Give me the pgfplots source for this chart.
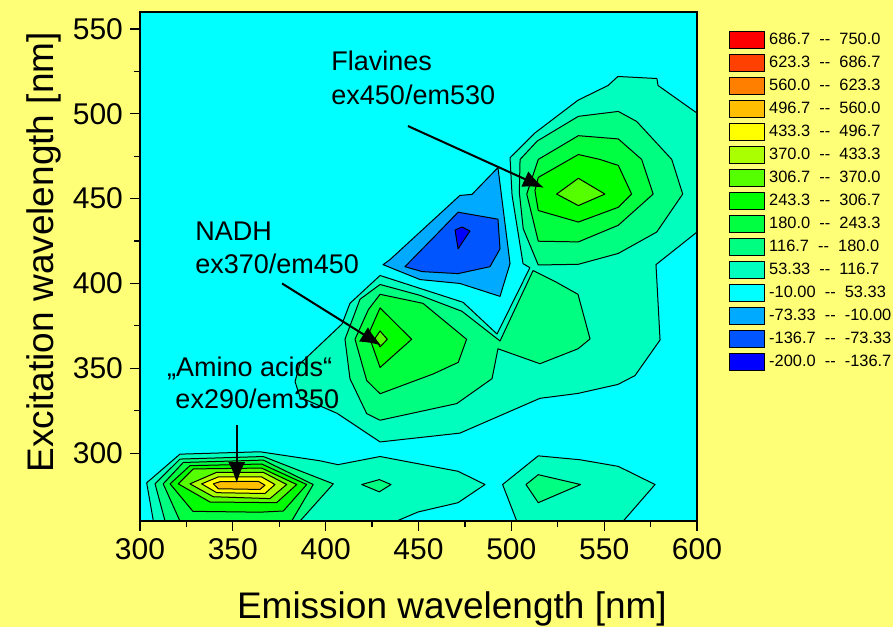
\documentclass[border=0pt]{standalone}
\usepackage{fontspec}
\setmainfont{Liberation Sans}
\usepackage{pgfplots}
\pgfplotsset{compat=1.18}
\usetikzlibrary{arrows.meta}

\definecolor{bgyellow}{RGB}{255,255,119}
\definecolor{c01}{HTML}{FF0000}
\definecolor{c02}{HTML}{FF4000}
\definecolor{c03}{HTML}{FF8000}
\definecolor{c04}{HTML}{FFBF00}
\definecolor{c05}{HTML}{FFFF00}
\definecolor{c06}{HTML}{AAFF00}
\definecolor{c07}{HTML}{55FF00}
\definecolor{c08}{HTML}{00FF00}
\definecolor{c09}{HTML}{00FF40}
\definecolor{c10}{HTML}{00FF80}
\definecolor{c11}{HTML}{00FFBF}
\definecolor{c12}{HTML}{00FFFF}
\definecolor{c13}{HTML}{00AAFF}
\definecolor{c14}{HTML}{0055FF}
\definecolor{c15}{HTML}{0000FF}

\pgfplotsset{
  lev/.style={draw=black, line width=0.5pt, line join=round, fill=#1, forget plot},
}

\begin{document}
\begin{tikzpicture}
\useasboundingbox (0,0) rectangle (446.5pt,313.5pt);
\fill[bgyellow] (0,0) rectangle (446.5pt,313.5pt);
\begin{axis}[
  at={(70pt,53pt)}, anchor=south west,
  width=278.5pt, height=254.5pt, scale only axis,
  xmin=300, xmax=600, ymin=260, ymax=560,
  xtick={300,350,...,600}, ytick={300,350,...,550},
  minor x tick num=1, minor y tick num=1,
  tick align=outside, xtick pos=bottom, ytick pos=left,
  major tick length=5pt, minor tick length=3pt,
  every tick/.style={black, line width=0.6pt},
  axis line style={line width=0.8pt},
  axis background/.style={fill=c12},
  axis on top,
  ticklabel style={font=\fontsize{15}{18}\selectfont},
  /pgf/number format/assume math mode=true,
  xlabel={Emission wavelength [nm]},
  ylabel={Excitation wavelength [nm]},
  label style={font=\fontsize{18.5}{22}\selectfont},
  xlabel style={at={(axis description cs:0.56,-0.1906)}, anchor=base},
  ylabel style={at={(axis description cs:-0.1557,0.528)}, anchor=base},
  legend style={at={(axis description cs:1.0575,0.9637)}, anchor=north west,
    draw=none, fill=none, inner sep=0pt, row sep=2.6pt,
    font=\fontsize{8.2}{9}\selectfont, nodes={inner sep=0pt},
    /tikz/every odd column/.append style={column sep=2pt}},
  legend cell align=left,
  legend image code/.code={\fill[#1] (0pt,-4.25pt) rectangle (17.5pt,4.25pt);},
]
% legend, highest level first
\addlegendimage{fill=c01}\addlegendentry{686.7~~-{}-~~750.0}
\addlegendimage{fill=c02}\addlegendentry{623.3~~-{}-~~686.7}
\addlegendimage{fill=c03}\addlegendentry{560.0~~-{}-~~623.3}
\addlegendimage{fill=c04}\addlegendentry{496.7~~-{}-~~560.0}
\addlegendimage{fill=c05}\addlegendentry{433.3~~-{}-~~496.7}
\addlegendimage{fill=c06}\addlegendentry{370.0~~-{}-~~433.3}
\addlegendimage{fill=c07}\addlegendentry{306.7~~-{}-~~370.0}
\addlegendimage{fill=c08}\addlegendentry{243.3~~-{}-~~306.7}
\addlegendimage{fill=c09}\addlegendentry{180.0~~-{}-~~243.3}
\addlegendimage{fill=c10}\addlegendentry{116.7~~-{}-~~180.0}
\addlegendimage{fill=c11}\addlegendentry{53.33~~-{}-~~116.7}
\addlegendimage{fill=c12}\addlegendentry{-10.00~~-{}-~~53.33}
\addlegendimage{fill=c13}\addlegendentry{-73.33~~-{}-~~-10.00}
\addlegendimage{fill=c14}\addlegendentry{-136.7~~-{}-~~-73.33}
\addlegendimage{fill=c15}\addlegendentry{-200.0~~-{}-~~-136.7}

% negative levels
\addplot[lev=c13] coordinates {(430.9,411.1) (434.6,414.0) (472.3,451.9) (478.8,452.5) (492.8,468.3) (499.3,411.7) (493.9,392.4) (472.3,400.0) (450.8,402.3)} -- cycle;
\addplot[lev=c14] coordinates {(442.7,409.9) (460.0,429.2) (471.3,442.0) (492.8,437.9) (493.9,420.4) (488.5,409.9) (471.3,405.8) (451.9,407.0)} -- cycle;
\addplot[lev=c15] coordinates {(469.7,431.5) (473.4,433.3) (477.7,430.9) (471.3,420.4)} -- cycle;

% 53.33 level
\addplot[lev=c11] coordinates {(429.3,404.7) (450.8,397.1) (474.0,388.9) (492.3,370.2) (510.0,409.3) (506.3,411.7) (500.4,451.9) (499.3,474.1) (512.7,488.7) (535.9,508.0) (552.1,516.7) (557.4,522.0) (578.4,520.8) (579.0,516.7) (600,500.4) (600,430.3) (577.9,411.1) (578.4,401.2) (580.1,366.7) (566.6,345.7) (557.4,340.5) (535.9,335.2) (515.4,332.3) (472.3,311.8) (429.3,306.6) (406.1,323.5) (386.2,332.9) (383.5,342.2) (386.2,352.7) (408.8,376.1) (413.1,388.3)} -- cycle;
\addplot[lev=c11] coordinates {(307.2,260) (303.6,282.5) (321.5,299.4) (364.6,300.8) (396.9,295.5) (406.6,293.2) (429.3,298.0) (471.3,289.3) (485.8,281.5) (471.3,270.8) (449.7,265.3) (438.3,260)} -- cycle;
\addplot[lev=c11] coordinates {(502.9,260) (495.3,281.5) (514.5,298.4) (537.0,296.1) (557.6,292.2) (577.4,281.5) (560.3,260)} -- cycle;

% 116.7 level
\addplot[lev=c10] coordinates {(504.7,473.1) (514.0,484.0) (536.1,498.5) (557.6,501.4) (567.5,495.5) (586.4,473.1) (592.3,452.7) (578.3,430.3) (557.6,417.7) (536.1,411.3) (514.5,410.9) (506.4,432.3) (504.3,453.7)} -- cycle;
\addplot[lev=c10] coordinates {(429.3,399.4) (450.8,393.0) (473.4,383.6) (493.9,366.1) (511.7,407.6) (523.5,401.2) (535.9,393.6) (542.4,367.3) (535.9,361.5) (515.4,352.7) (492.8,361.5) (489.6,343.9) (470.6,329.2) (429.3,319.4) (422.1,323.3) (413.1,343.8) (410.4,367.1) (418.5,390.7)} -- cycle;
\addplot[lev=c10] coordinates {(313.5,260) (308.1,281.9) (321.5,296.5) (366.4,298.0) (404.1,281.9) (386.2,260)} -- cycle;
\addplot[lev=c10] coordinates {(419.4,281.5) (428.9,284.4) (435.2,281.5) (428.9,277.2)} -- cycle;
\addplot[lev=c10] coordinates {(507.9,281.5) (514.5,287.3) (537.3,281.5) (514.5,270.8)} -- cycle;

% 180.0 level
\addplot[lev=c09] coordinates {(514.5,473.1) (536.1,487.1) (557.6,485.2) (570.2,473.1) (576.4,452.7) (557.6,434.3) (536.1,424.5) (514.5,424.9) (508.3,452.7)} -- cycle;
\addplot[lev=c09] coordinates {(429.3,393.6) (452.4,388.3) (475.9,367.1) (471.4,353.5) (458.0,346.7) (429.3,335.0) (422.1,342.8) (415.8,367.1) (423.0,384.6)} -- cycle;
\addplot[lev=c09] coordinates {(321.5,260) (312.5,281.9) (323.3,294.5) (366.4,295.9) (393.3,281.5) (381.7,260)} -- cycle;

% 243.3 level
\addplot[lev=c08] coordinates {(514.5,462.5) (536.1,476.0) (547.7,473.1) (557.6,469.6) (564.8,452.7) (557.6,444.9) (536.1,436.2) (514.5,443.0) (512.7,454.7)} -- cycle;
\addplot[lev=c08] coordinates {(429.3,385.6) (446.3,367.1) (429.3,350.5) (423.0,370.0)} -- cycle;
\addplot[lev=c08] coordinates {(316.2,281.9) (326.9,292.6) (365.5,293.6) (389.8,281.5) (377.2,265.9) (364.6,265.2) (328.5,265.7)} -- cycle;

% 306.7 level
\addplot[lev=c07] coordinates {(524.4,452.7) (536.1,462.0) (550.4,452.7) (536.1,445.9)} -- cycle;
\addplot[lev=c07] coordinates {(429.3,372.0) (433.2,367.1) (429.3,362.6) (426.6,367.7)} -- cycle;
\addplot[lev=c07] coordinates {(320.6,281.9) (328.7,290.7) (365.5,291.2) (384.4,281.5) (373.6,270.8) (337.7,271.2)} -- cycle;

% 370.0, 433.3, 496.7 levels
\addplot[lev=c06] coordinates {(326.9,281.9) (341.3,288.7) (366.4,288.7) (379.0,281.5) (370.0,273.2) (339.5,274.3)} -- cycle;
\addplot[lev=c05] coordinates {(333.2,281.9) (342.2,286.0) (365.5,286.0) (372.7,281.5) (367.3,276.2) (341.3,276.7)} -- cycle;
\addplot[lev=c04] coordinates {(339.5,281.9) (343.1,283.2) (363.7,283.4) (367.3,281.1) (364.6,278.6) (342.2,279.0)} -- cycle;

% annotations
\tikzset{ann/.style={anchor=base west, inner sep=0pt, font=\fontsize{13.5}{16}\selectfont}}
\node[ann] at (axis cs:402.9,525.5) {Flavines};
\node[ann] at (axis cs:402.9,505.6) {ex450/em530};
\node[ann] at (axis cs:329.6,425.1) {NADH};
\node[ann] at (axis cs:329.6,406.0) {ex370/em450};
\node[ann] at (axis cs:314.4,345.1) {„Amino acids“};
\node[ann] at (axis cs:318.9,326.4) {ex290/em350};
\tikzset{arr/.style={line width=1pt, -{Latex[length=10.5pt,width=8.5pt]}}}
\draw[arr] (axis cs:444.3,492.8) -- (axis cs:517.6,456.4);
\draw[arr] (axis cs:376.5,400.0) -- (axis cs:430.0,363.4);
\draw[arr] (axis cs:352.1,316.5) -- (axis cs:352.1,282.3);
\end{axis}
\end{tikzpicture}
\end{document}
